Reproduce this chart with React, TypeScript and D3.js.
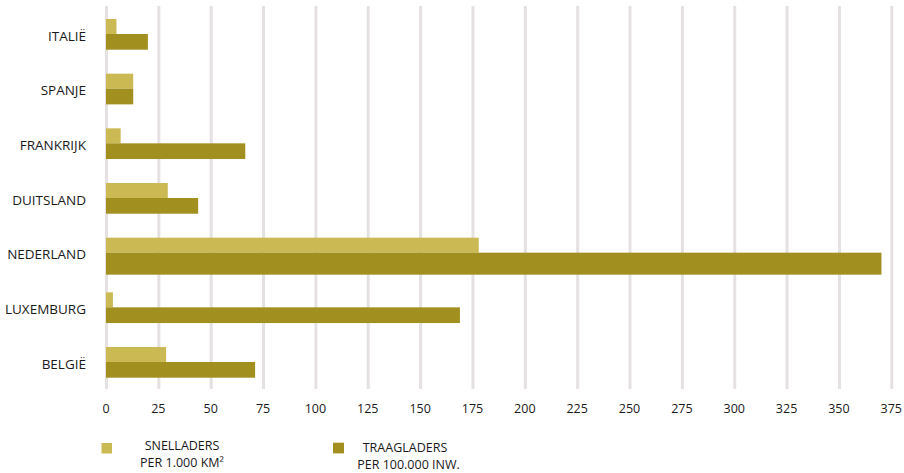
import React from "react";
import * as d3 from "d3";

const countries = ["ITALIË", "SPANJE", "FRANKRIJK", "DUITSLAND", "NEDERLAND", "LUXEMBURG", "BELGIË"];
const snelladers = [5, 13, 7, 29.5, 178, 3.3, 28.7];
const traagladers = [20, 13, 66.5, 44, 370.3, 169, 71.2];
const xTicks = [0, 25, 50, 75, 100, 125, 150, 175, 200, 225, 250, 275, 300, 325, 350, 375];
const legendLabels = [
  ["SNELLADERS", "PER 1.000 KM²"],
  ["TRAAGLADERS", "PER 100.000 INW."],
];

const W = 904;
const H = 473;
const LIGHT = "#cbb954";
const DARK = "#a18f20";
const GRID = "#e6e1e1";
const TEXT = "#1a1a1a";
const FONT = "'Open Sans', 'Noto Sans', sans-serif";
const EMPHASIS = "NEDERLAND";

export default function App() {
  const x = d3.scaleLinear().domain([0, 375]).range([106, 891.3]);
  const y = d3.scalePoint<string>().domain(countries).range([34, 362]);
  const lightH = 15;
  const darkH = 15.7;
  const darkHEm = 22;

  return (
    <svg
      width={W}
      height={H}
      style={{ position: "absolute", left: 0, top: 0, background: "#fff" }}
      fontFamily={FONT}
    >
      {xTicks.map((t) => (
        <line key={"g" + t} x1={x(t) + 0.5} x2={x(t) + 0.5} y1={6} y2={389} stroke={GRID} strokeWidth={3} />
      ))}
      {countries.map((c, i) => {
        const yb = y(c)!;
        const dh = c === EMPHASIS ? darkHEm : darkH;
        return (
          <g key={c}>
            <rect x={x(0)} y={yb - lightH} width={x(snelladers[i]) - x(0)} height={lightH} fill={LIGHT} />
            <rect x={x(0)} y={yb} width={x(traagladers[i]) - x(0)} height={dh} fill={DARK} />
            <text x={86} y={yb + 6.7} textAnchor="end" fontSize={13.5} fill={TEXT}>
              {c}
            </text>
          </g>
        );
      })}
      {xTicks.map((t) => (
        <text key={"t" + t} x={x(t)} y={413} textAnchor="middle" fontSize={12.5} fill={TEXT}>
          {t}
        </text>
      ))}
      <g>
        <rect x={101.5} y={443} width={10.5} height={10.5} fill={LIGHT} />
        <text x={182} y={450.2} textAnchor="middle" fontSize={12.5} fill={TEXT}>
          {legendLabels[0][0]}
        </text>
        <text x={182} y={467.3} textAnchor="middle" fontSize={12.5} fill={TEXT}>
          {legendLabels[0][1]}
        </text>
        <rect x={333} y={442.7} width={11} height={10.7} fill={DARK} />
        <text x={405} y={451.6} textAnchor="middle" fontSize={12.5} fill={TEXT}>
          {legendLabels[1][0]}
        </text>
        <text x={408.5} y={468.7} textAnchor="middle" fontSize={12.5} fill={TEXT}>
          {legendLabels[1][1]}
        </text>
      </g>
    </svg>
  );
}
